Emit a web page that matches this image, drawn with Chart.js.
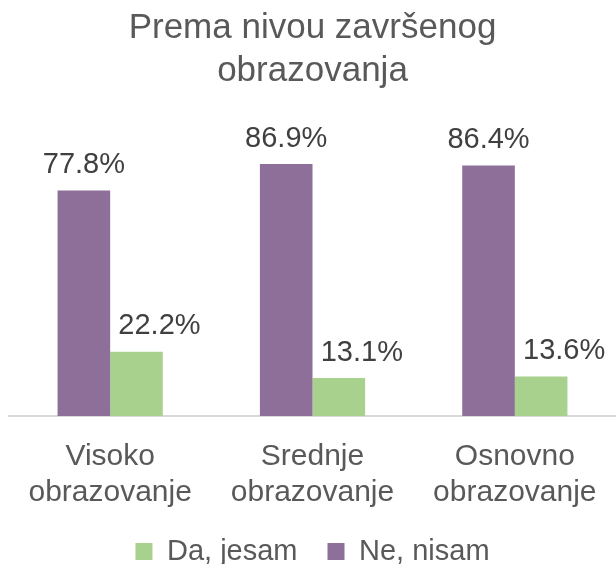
<!DOCTYPE html>
<html>
<head>
<meta charset="utf-8">
<script src="https://cdn.jsdelivr.net/npm/chart.js@4"></script>
<style>
  html, body { margin: 0; padding: 0; background: #fff; overflow: hidden; }
  #wrap { width: 616px; height: 576px; }
</style>
</head>
<body>
<div id="wrap"><canvas id="chart" width="616" height="576"></canvas></div>
<script>
const categories = [
  ["Visoko", "obrazovanje"],
  ["Srednje", "obrazovanje"],
  ["Osnovno", "obrazovanje"],
];
const neNisam = [77.8, 86.9, 86.4];
const daJesam = [22.2, 13.1, 13.6];

const FONT = "'Liberation Sans', Arial, sans-serif";

// value labels above the bars
const barLabels = {
  id: "barLabels",
  afterDatasetsDraw(chart) {
    const ctx = chart.ctx;
    ctx.save();
    ctx.font = "29px " + FONT;
    ctx.fillStyle = "#404040";
    ctx.textAlign = "center";
    ctx.textBaseline = "bottom";
    chart.data.datasets.forEach((ds, i) => {
      const meta = chart.getDatasetMeta(i);
      const shift = i === 1 ? 23 : 0;
      meta.data.forEach((bar, j) => {
        ctx.fillText(ds.data[j].toFixed(1) + "%", bar.x + shift, bar.y - 11);
      });
    });
    ctx.restore();
  },
};

const ctx = document.getElementById("chart").getContext("2d");
const chart = new Chart(ctx, {
  type: "bar",
  data: {
    labels: categories,
    datasets: [
      {
        label: "Ne, nisam",
        data: neNisam,
        backgroundColor: "#8e6f99",
        categoryPercentage: 0.52,
        barPercentage: 1,
      },
      {
        label: "Da, jesam",
        data: daJesam,
        backgroundColor: "#a9d18e",
        categoryPercentage: 0.52,
        barPercentage: 1,
      },
    ],
  },
  options: {
    responsive: false,
    animation: false,
    devicePixelRatio: 1,
    layout: {
      padding: { left: 9, right: 0, top: 0, bottom: 0 },
    },
    scales: {
      x: {
        grid: { display: false, drawTicks: false },
        border: { color: "#d9d9d9", width: 2 },
        ticks: {
          color: "#595959",
          padding: 23,
          font: { family: FONT, size: 30, lineHeight: 1.2 },
        },
        afterFit(scale) {
          scale.height = 91;
          scale.paddingLeft = 0;
          scale.paddingRight = 0;
        },
      },
      y: {
        display: false,
        min: 0,
        max: 100,
      },
    },
    plugins: {
      title: {
        display: true,
        text: ["Prema nivou završenog", "obrazovanja"],
        color: "#595959",
        font: { family: FONT, size: 35, weight: "normal", lineHeight: 1.23 },
        padding: { top: 7, bottom: 33 },
      },
      legend: {
        position: "bottom",
        reverse: true,
        labels: {
          color: "#595959",
          boxWidth: 17,
          boxHeight: 17,
          padding: 30,
          font: { family: FONT, size: 29 },
        },
      },
      tooltip: { enabled: false },
    },
  },
  plugins: [barLabels],
});
</script>
</body>
</html>
